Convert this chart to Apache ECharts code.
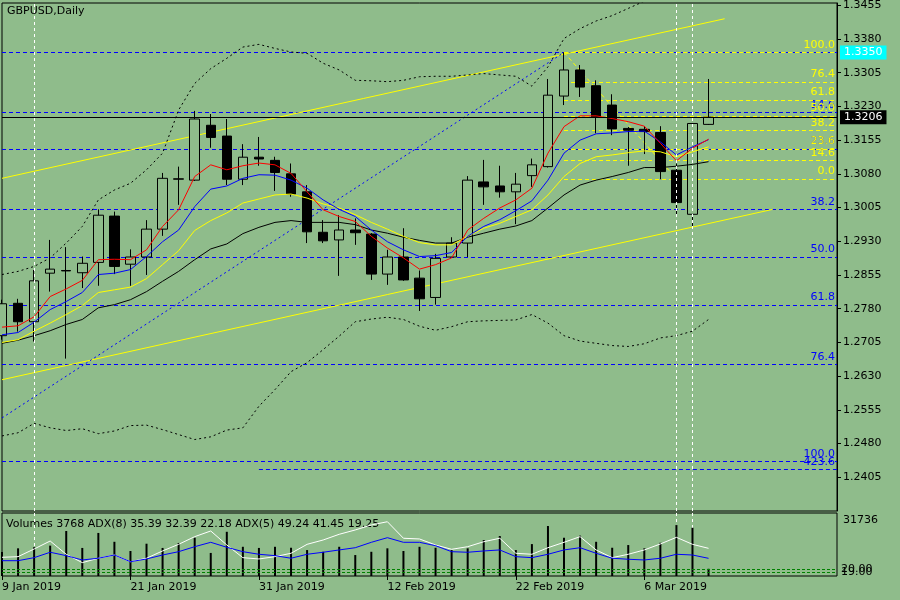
<!DOCTYPE html>
<html>
<head>
<meta charset="utf-8">
<title>GBPUSD, Daily</title>
<script src="https://cdn.jsdelivr.net/npm/echarts@6/dist/echarts.min.js"></script>
<style>
  html, body { margin: 0; padding: 0; background: #8fbc8b; }
  #chart { width: 900px; height: 600px; }
</style>
</head>
<body>
<div id="chart"></div>
<script>
// Trading days (last 8 are empty future slots on the right of the chart)
const dates = ['9 Jan 2019','10 Jan 2019','11 Jan 2019','14 Jan 2019','15 Jan 2019','16 Jan 2019','17 Jan 2019','18 Jan 2019',
  '21 Jan 2019','22 Jan 2019','23 Jan 2019','24 Jan 2019','25 Jan 2019','28 Jan 2019','29 Jan 2019','30 Jan 2019',
  '31 Jan 2019','1 Feb 2019','4 Feb 2019','5 Feb 2019','6 Feb 2019','7 Feb 2019','8 Feb 2019','11 Feb 2019',
  '12 Feb 2019','13 Feb 2019','14 Feb 2019','15 Feb 2019','18 Feb 2019','19 Feb 2019','20 Feb 2019','21 Feb 2019',
  '22 Feb 2019','25 Feb 2019','26 Feb 2019','27 Feb 2019','28 Feb 2019','1 Mar 2019','4 Mar 2019','5 Mar 2019',
  '6 Mar 2019','7 Mar 2019','8 Mar 2019','11 Mar 2019','12 Mar 2019',
  '13 Mar 2019','14 Mar 2019','15 Mar 2019','18 Mar 2019','19 Mar 2019','20 Mar 2019','21 Mar 2019','22 Mar 2019'];

// GBPUSD daily candles
const opens  = [1.2720,1.2792,1.2751,1.2859,1.2865,1.2860,1.2883,1.2986,1.2879,1.2895,1.2957,1.3068,1.3066,1.3188,1.3164,1.3068,1.3117,1.3110,1.3080,1.3040,1.2950,1.2933,1.2955,1.2946,1.2857,1.2895,1.2848,1.2805,1.2895,1.2926,1.3062,1.3053,1.3040,1.3076,1.3096,1.3253,1.3311,1.3276,1.3233,1.3181,1.3179,1.3172,1.3088,1.2990,1.3190];
const closes = [1.2791,1.2751,1.2842,1.2868,1.2864,1.2881,1.2988,1.2874,1.2895,1.2957,1.3070,1.3069,1.3202,1.3161,1.3068,1.3117,1.3113,1.3083,1.3035,1.2951,1.2931,1.2955,1.2949,1.2857,1.2895,1.2844,1.2802,1.2892,1.2926,1.3066,1.3051,1.3040,1.3057,1.3100,1.3255,1.3311,1.3273,1.3207,1.3180,1.3177,1.3174,1.3085,1.3016,1.3192,1.3206];
const lows   = [1.2711,1.2729,1.2707,1.2818,1.2669,1.2826,1.2831,1.2857,1.2831,1.2855,1.2942,1.3011,1.3064,1.3138,1.3055,1.3055,1.3098,1.3042,1.3029,1.2926,1.2926,1.2853,1.2922,1.2844,1.2833,1.2842,1.2775,1.2789,1.2893,1.2895,1.3011,1.3027,1.2968,1.3051,1.3094,1.3233,1.3251,1.3170,1.3166,1.3098,1.3124,1.3068,1.2988,1.2962,1.3189];
const highs  = [1.2800,1.2802,1.2866,1.2933,1.2917,1.2896,1.3001,1.2996,1.2912,1.2977,1.3082,1.3096,1.3220,1.3213,1.3202,1.3146,1.3162,1.3118,1.3103,1.3055,1.2977,1.2988,1.2981,1.2948,1.2911,1.2959,1.2865,1.2902,1.2939,1.3075,1.3111,1.3098,1.3082,1.3114,1.3291,1.3350,1.3322,1.3288,1.3257,1.3184,1.3186,1.3186,1.3103,1.3193,1.3291];

// Moving averages and Bollinger bands
const maRed    = [1.2739,1.2742,1.2762,1.2807,1.2824,1.2843,1.2889,1.2890,1.2889,1.2911,1.2963,1.3000,1.3074,1.3100,1.3089,1.3098,1.3104,1.3100,1.3081,1.3040,1.3000,1.2985,1.2974,1.2941,1.2915,1.2893,1.2868,1.2878,1.2893,1.2955,1.2981,1.3004,1.3022,1.3048,1.3126,1.3185,1.3209,1.3209,1.3203,1.3196,1.3186,1.3148,1.3109,1.3137,1.3157];
const maBlue   = [1.2722,1.2727,1.2750,1.2778,1.2796,1.2816,1.2856,1.2859,1.2867,1.2896,1.2929,1.2955,1.3007,1.3046,1.3053,1.3070,1.3078,1.3077,1.3066,1.3048,1.3022,1.3001,1.2985,1.2955,1.2929,1.2911,1.2896,1.2898,1.2905,1.2941,1.2963,1.2978,1.2998,1.3020,1.3066,1.3126,1.3155,1.3169,1.3171,1.3174,1.3175,1.3151,1.3122,1.3140,1.3156];
const maYellow = [1.2705,1.2711,1.2730,1.2748,1.2767,1.2787,1.2816,1.2822,1.2828,1.2847,1.2878,1.2909,1.2954,1.2976,1.2993,1.3015,1.3024,1.3033,1.3035,1.3026,1.3013,1.3004,1.2989,1.2972,1.2957,1.2941,1.2927,1.2922,1.2922,1.2941,1.2959,1.2970,1.2985,1.3000,1.3033,1.3074,1.3103,1.3118,1.3122,1.3127,1.3131,1.3129,1.3118,1.3129,1.3140];
const maBlack  = [1.2703,1.2710,1.2720,1.2731,1.2745,1.2756,1.2782,1.2789,1.2800,1.2818,1.2841,1.2863,1.2889,1.2913,1.2924,1.2947,1.2961,1.2972,1.2976,1.2972,1.2972,1.2972,1.2967,1.2955,1.2948,1.2939,1.2932,1.2926,1.2926,1.2939,1.2948,1.2957,1.2964,1.2976,1.3004,1.3033,1.3055,1.3066,1.3074,1.3083,1.3094,1.3094,1.3097,1.3101,1.3107];
const bbUpper  = [1.2856,1.2863,1.2874,1.2893,1.2926,1.2963,1.3022,1.3044,1.3059,1.3089,1.3126,1.3222,1.3281,1.3314,1.3337,1.3362,1.3368,1.3359,1.3351,1.3348,1.3326,1.3311,1.3288,1.3287,1.3285,1.3288,1.3296,1.3297,1.3297,1.3300,1.3303,1.3300,1.3297,1.3275,1.3318,1.3381,1.3403,1.3420,1.3432,1.3448,1.3464,1.3477,1.3488,1.3497,1.3504];
const bbLower  = [1.2497,1.2504,1.2525,1.2515,1.2509,1.2513,1.2502,1.2508,1.2520,1.2521,1.2511,1.2500,1.2489,1.2495,1.2510,1.2515,1.2563,1.2600,1.2640,1.2660,1.2689,1.2719,1.2751,1.2757,1.2761,1.2756,1.2741,1.2732,1.2740,1.2751,1.2753,1.2754,1.2755,1.2767,1.2748,1.2720,1.2708,1.2703,1.2698,1.2696,1.2702,1.2715,1.2720,1.2730,1.2756];

// Sub window: tick volumes and two ADX lines
const volumes = [12500,14400,15000,15800,23400,14600,22400,17800,13000,16800,14600,17200,19900,12000,23000,15200,14600,15200,14700,13500,12600,15200,10900,12600,14400,13000,15200,14700,13500,14400,18700,20800,13500,16600,26000,19900,21000,17800,14700,16100,14400,17300,26500,25100,3768];
const adxWhite = [36.8,37.7,48.3,59.4,41.0,29.4,35.5,40.0,30.7,35.5,45.6,54.8,65.4,73.3,53.9,36.3,34.5,37.7,42.4,54.8,60.8,68.7,74.7,81.6,86.1,63.2,62.2,53.9,47.9,51.5,58.4,63.2,42.4,41.0,50.1,57.6,65.4,47.0,36.3,41.0,47.0,55.3,64.5,54.8,49.24];
const adxBlue  = [32.1,32.1,36.3,43.8,39.1,33.1,35.5,40.0,30.7,34.5,40.0,44.6,51.5,57.6,50.7,44.6,41.0,39.1,35.5,41.0,43.8,47.0,50.1,57.6,64.0,57.6,57.6,52.9,44.6,43.8,45.6,47.0,37.7,36.3,41.0,47.0,50.1,42.4,35.5,34.1,33.1,35.5,41.0,40.0,35.39];
const adxLevels = [20, 16];
const adxLevelLabels = ['20.00', '19.00'];
const volumeMark = 31736;

// Fibonacci objects (blue over the whole width, yellow from the 25 Feb high)
const fiboBlueLabels = ['0.0','14.6','23.6','38.2','50.0','61.8','76.4','100.0'];
const fiboBluePrices = [1.3350,1.3217,1.3135,1.3001,1.2895,1.2788,1.2656,1.2440];
const fiboExtLabel = '423.6';
const fiboExtPrice = 1.2423;
const fiboExtStart = 16;
const fiboYellowLabels = ['100.0','76.4','61.8','50.0','38.2','23.6','14.6','0.0'];
const fiboYellowPrices = [1.3350,1.3284,1.3244,1.3209,1.3177,1.3135,1.3110,1.3069];
const fiboYellowStart = 35;

// Trend lines: [bar index, price]
const channelUpper = [[0, 1.3070], [45, 1.3425]];
const channelLower = [[0, 1.2622], [48, 1.3001]];
const fiboBlueTrend = [[0, 1.2537], [35, 1.3350]];
const fiboYellowTrend = [[35, 1.3350], [42, 1.3069]];

// Vertical separators and price labels
const vLines = [2, 42, 43];
const bidPrice = 1.3206;
const alertPrice = 1.3350;

const bg = '#8fbc8b';
const font = 'DejaVu Sans';
const lastIdx = dates.length - 1;
const labelEvery = (i) => i % 8 === 0 && i <= 40;

// candlestick wants [open, close, low, high]
const ohlc = opens.map((o, i) => [o, closes[i], lows[i], highs[i]]);

const chart = echarts.init(document.getElementById('chart'));

const hideAxis = { show: false };
const noLine = { color: 'transparent', width: 0 };

const option = {
    backgroundColor: bg,
    animation: false,
    textStyle: { fontFamily: font },
    grid: [
        { left: 2, top: 3, width: 835, height: 508, show: true, borderColor: '#000', borderWidth: 1,
          backgroundColor: 'transparent', outerBoundsMode: 'none', containLabel: false },
        { left: 2, top: 513, width: 835, height: 63, show: true, borderColor: '#000', borderWidth: 1,
          backgroundColor: 'transparent', outerBoundsMode: 'none', containLabel: false }
    ],
    xAxis: [
        { type: 'category', gridIndex: 0, data: dates, boundaryGap: false,
          axisLine: hideAxis, axisTick: hideAxis, axisLabel: hideAxis, splitLine: hideAxis },
        { type: 'category', gridIndex: 1, data: dates, boundaryGap: false,
          axisLine: hideAxis,
          axisTick: { show: true, interval: labelEvery, length: 4, lineStyle: { color: '#000' } },
          axisLabel: { interval: labelEvery, align: 'left', margin: 6, color: '#000', fontSize: 11, fontFamily: font },
          splitLine: hideAxis }
    ],
    yAxis: [
        { type: 'value', gridIndex: 0, position: 'right', min: 1.2330, max: 1.3460, interval: 0.0075,
          axisLine: { show: true, lineStyle: { color: '#000' } },
          axisTick: { show: true, length: 4, lineStyle: { color: '#000' } },
          axisLabel: { color: '#000', fontSize: 11, fontFamily: font, margin: 6,
                       showMinLabel: false, showMaxLabel: false,
                       formatter: v => v.toFixed(4) },
          splitLine: hideAxis },
        { type: 'value', gridIndex: 1, min: 0, max: 32777, show: false, splitLine: hideAxis },
        { type: 'value', gridIndex: 1, min: 10.9, max: 98.2, show: false, splitLine: hideAxis }
    ],
    graphic: [
        { type: 'text', left: 7, top: 6, silent: true,
          style: { text: 'GBPUSD,Daily', fill: '#000', font: '11px "DejaVu Sans"' } },
        { type: 'text', left: 6, top: 519, silent: true,
          style: { text: 'Volumes 3768 ADX(8) 35.39 32.39 22.18 ADX(5) 49.24 41.45 19.25', fill: '#000', font: '11px "DejaVu Sans"' } }
    ],
    series: [
        // white dashed period lines (main window), drawn over the candles
        { name: 'Separators', type: 'line', xAxisIndex: 0, yAxisIndex: 0, data: [], z: 1,
          markLine: { silent: true, symbol: ['none', 'none'], animation: false, z: 6,
                      lineStyle: { color: '#fff', type: [3, 3], width: 1 }, label: { show: false },
                      data: vLines.map(i => ({ xAxis: i })) } },
        // blue fibo levels (behind the candles); its 0.0 label sits under the yellow 100.0
        { name: 'Fibo blue', type: 'line', xAxisIndex: 0, yAxisIndex: 0, data: [], z: 1,
          markLine: { silent: true, symbol: ['none', 'none'], animation: false, precision: 4, z: 1,
                      lineStyle: { color: '#0000ff', type: [4, 3], width: 1 },
                      label: { position: 'insideEndTop', color: '#0000ff', fontSize: 11, fontFamily: font, distance: [2, 2] },
                      data: fiboBluePrices.map((p, i) => ({ yAxis: p, label: { show: i > 0, formatter: fiboBlueLabels[i] } }))
                        .concat([[{ coord: [fiboExtStart, fiboExtPrice] },
                                  { coord: [lastIdx, fiboExtPrice], label: { formatter: fiboExtLabel } }]]) } },
        // yellow fibo levels (above the blue ones)
        { name: 'Fibo yellow', type: 'line', xAxisIndex: 0, yAxisIndex: 0, data: [], z: 2,
          markLine: { silent: true, symbol: ['none', 'none'], animation: false, precision: 4, z: 2,
                      lineStyle: { color: '#ffff00', type: [4, 3], width: 1 },
                      label: { position: 'insideEndTop', color: '#ffff00', fontSize: 11, fontFamily: font, distance: [2, 2] },
                      data: fiboYellowPrices.map((p, i) => [
                          { coord: [fiboYellowStart, p] },
                          { coord: [lastIdx, p], label: { formatter: fiboYellowLabels[i] } }]) } },
        // trend lines
        { name: 'Channel upper', type: 'line', data: channelUpper, symbol: 'none', silent: true, z: 2,
          lineStyle: { color: '#ffff00', width: 1 } },
        { name: 'Channel lower', type: 'line', data: channelLower, symbol: 'none', silent: true, z: 2,
          lineStyle: { color: '#ffff00', width: 1 } },
        { name: 'Fibo blue trend', type: 'line', data: fiboBlueTrend, symbol: 'none', silent: true, z: 2,
          lineStyle: { color: '#0000ff', width: 1, type: [2, 3] } },
        { name: 'Fibo yellow trend', type: 'line', data: fiboYellowTrend, symbol: 'none', silent: true, z: 2,
          lineStyle: { color: '#ffff00', width: 1, type: [4, 3] } },
        // Bollinger bands
        { name: 'BB upper', type: 'line', data: bbUpper, symbol: 'none', silent: true, z: 3,
          lineStyle: { color: '#000', width: 1, type: [2, 3] } },
        { name: 'BB lower', type: 'line', data: bbLower, symbol: 'none', silent: true, z: 3,
          lineStyle: { color: '#000', width: 1, type: [2, 3] } },
        // candles
        { name: 'GBPUSD', type: 'candlestick', data: ohlc, barWidth: 10, z: 4, silent: true,
          itemStyle: { color: bg, color0: '#000', borderColor: '#000', borderColor0: '#000',
                       borderColorDoji: '#000', borderWidth: 1 } },
        // moving averages
        { name: 'MA black', type: 'line', data: maBlack, symbol: 'none', silent: true, z: 5,
          lineStyle: { color: '#000', width: 1 } },
        { name: 'MA yellow', type: 'line', data: maYellow, symbol: 'none', silent: true, z: 5,
          lineStyle: { color: '#ffff00', width: 1 } },
        { name: 'MA blue', type: 'line', data: maBlue, symbol: 'none', silent: true, z: 5,
          lineStyle: { color: '#0000ff', width: 1 } },
        { name: 'MA red', type: 'line', data: maRed, symbol: 'none', silent: true, z: 5,
          lineStyle: { color: '#ff0000', width: 1 } },
        // bid line and price boxes on the axis
        { name: 'Price labels', type: 'line', xAxisIndex: 0, yAxisIndex: 0, data: [], z: 6,
          markLine: { silent: true, symbol: ['none', 'none'], animation: false, precision: 4, z: 6,
                      data: [
                          { yAxis: bidPrice, lineStyle: { color: '#000', type: 'solid', width: 1 },
                            label: { position: 'end', formatter: bidPrice.toFixed(4), color: '#fff', backgroundColor: '#000',
                                     padding: [2, 4, 1, 4], distance: 3, fontSize: 11, fontFamily: font } },
                          { yAxis: alertPrice, lineStyle: noLine,
                            label: { position: 'end', formatter: alertPrice.toFixed(4), color: '#fff', backgroundColor: '#00ffff',
                                     padding: [2, 4, 1, 4], distance: 3, fontSize: 11, fontFamily: font } }
                      ] } },
        // sub window: volumes
        { name: 'Volumes', type: 'bar', xAxisIndex: 1, yAxisIndex: 1, data: volumes, barWidth: 2, silent: true, z: 3,
          itemStyle: { color: '#000' },
          markLine: { silent: true, symbol: ['none', 'none'], animation: false, precision: 0, z: 2,
                      data: [
                          { yAxis: volumeMark, lineStyle: noLine,
                            label: { position: 'end', formatter: String(volumeMark), color: '#000', fontSize: 11,
                                     fontFamily: font, distance: 6, offset: [0, 5] } }
                      ].concat(vLines.map(i => ({ xAxis: i, lineStyle: { color: '#fff', type: [3, 3], width: 1 },
                                                   label: { show: false } }))) } },
        // sub window: ADX lines
        { name: 'ADX(5)', type: 'line', xAxisIndex: 1, yAxisIndex: 2, data: adxWhite, symbol: 'none', silent: true, z: 4,
          lineStyle: { color: '#fff', width: 1 },
          markLine: { silent: true, symbol: ['none', 'none'], animation: false, precision: 2,
                      lineStyle: { color: '#008000', type: [3, 2], width: 1 },
                      label: { position: 'end', color: '#000', fontSize: 11, fontFamily: font, distance: 4 },
                      data: adxLevels.map((v, i) => ({ yAxis: v, label: { formatter: adxLevelLabels[i] } })) } },
        { name: 'ADX(8)', type: 'line', xAxisIndex: 1, yAxisIndex: 2, data: adxBlue, symbol: 'none', silent: true, z: 4,
          lineStyle: { color: '#0000ff', width: 1 } }
    ]
};

chart.setOption(option);
</script>
</body>
</html>
